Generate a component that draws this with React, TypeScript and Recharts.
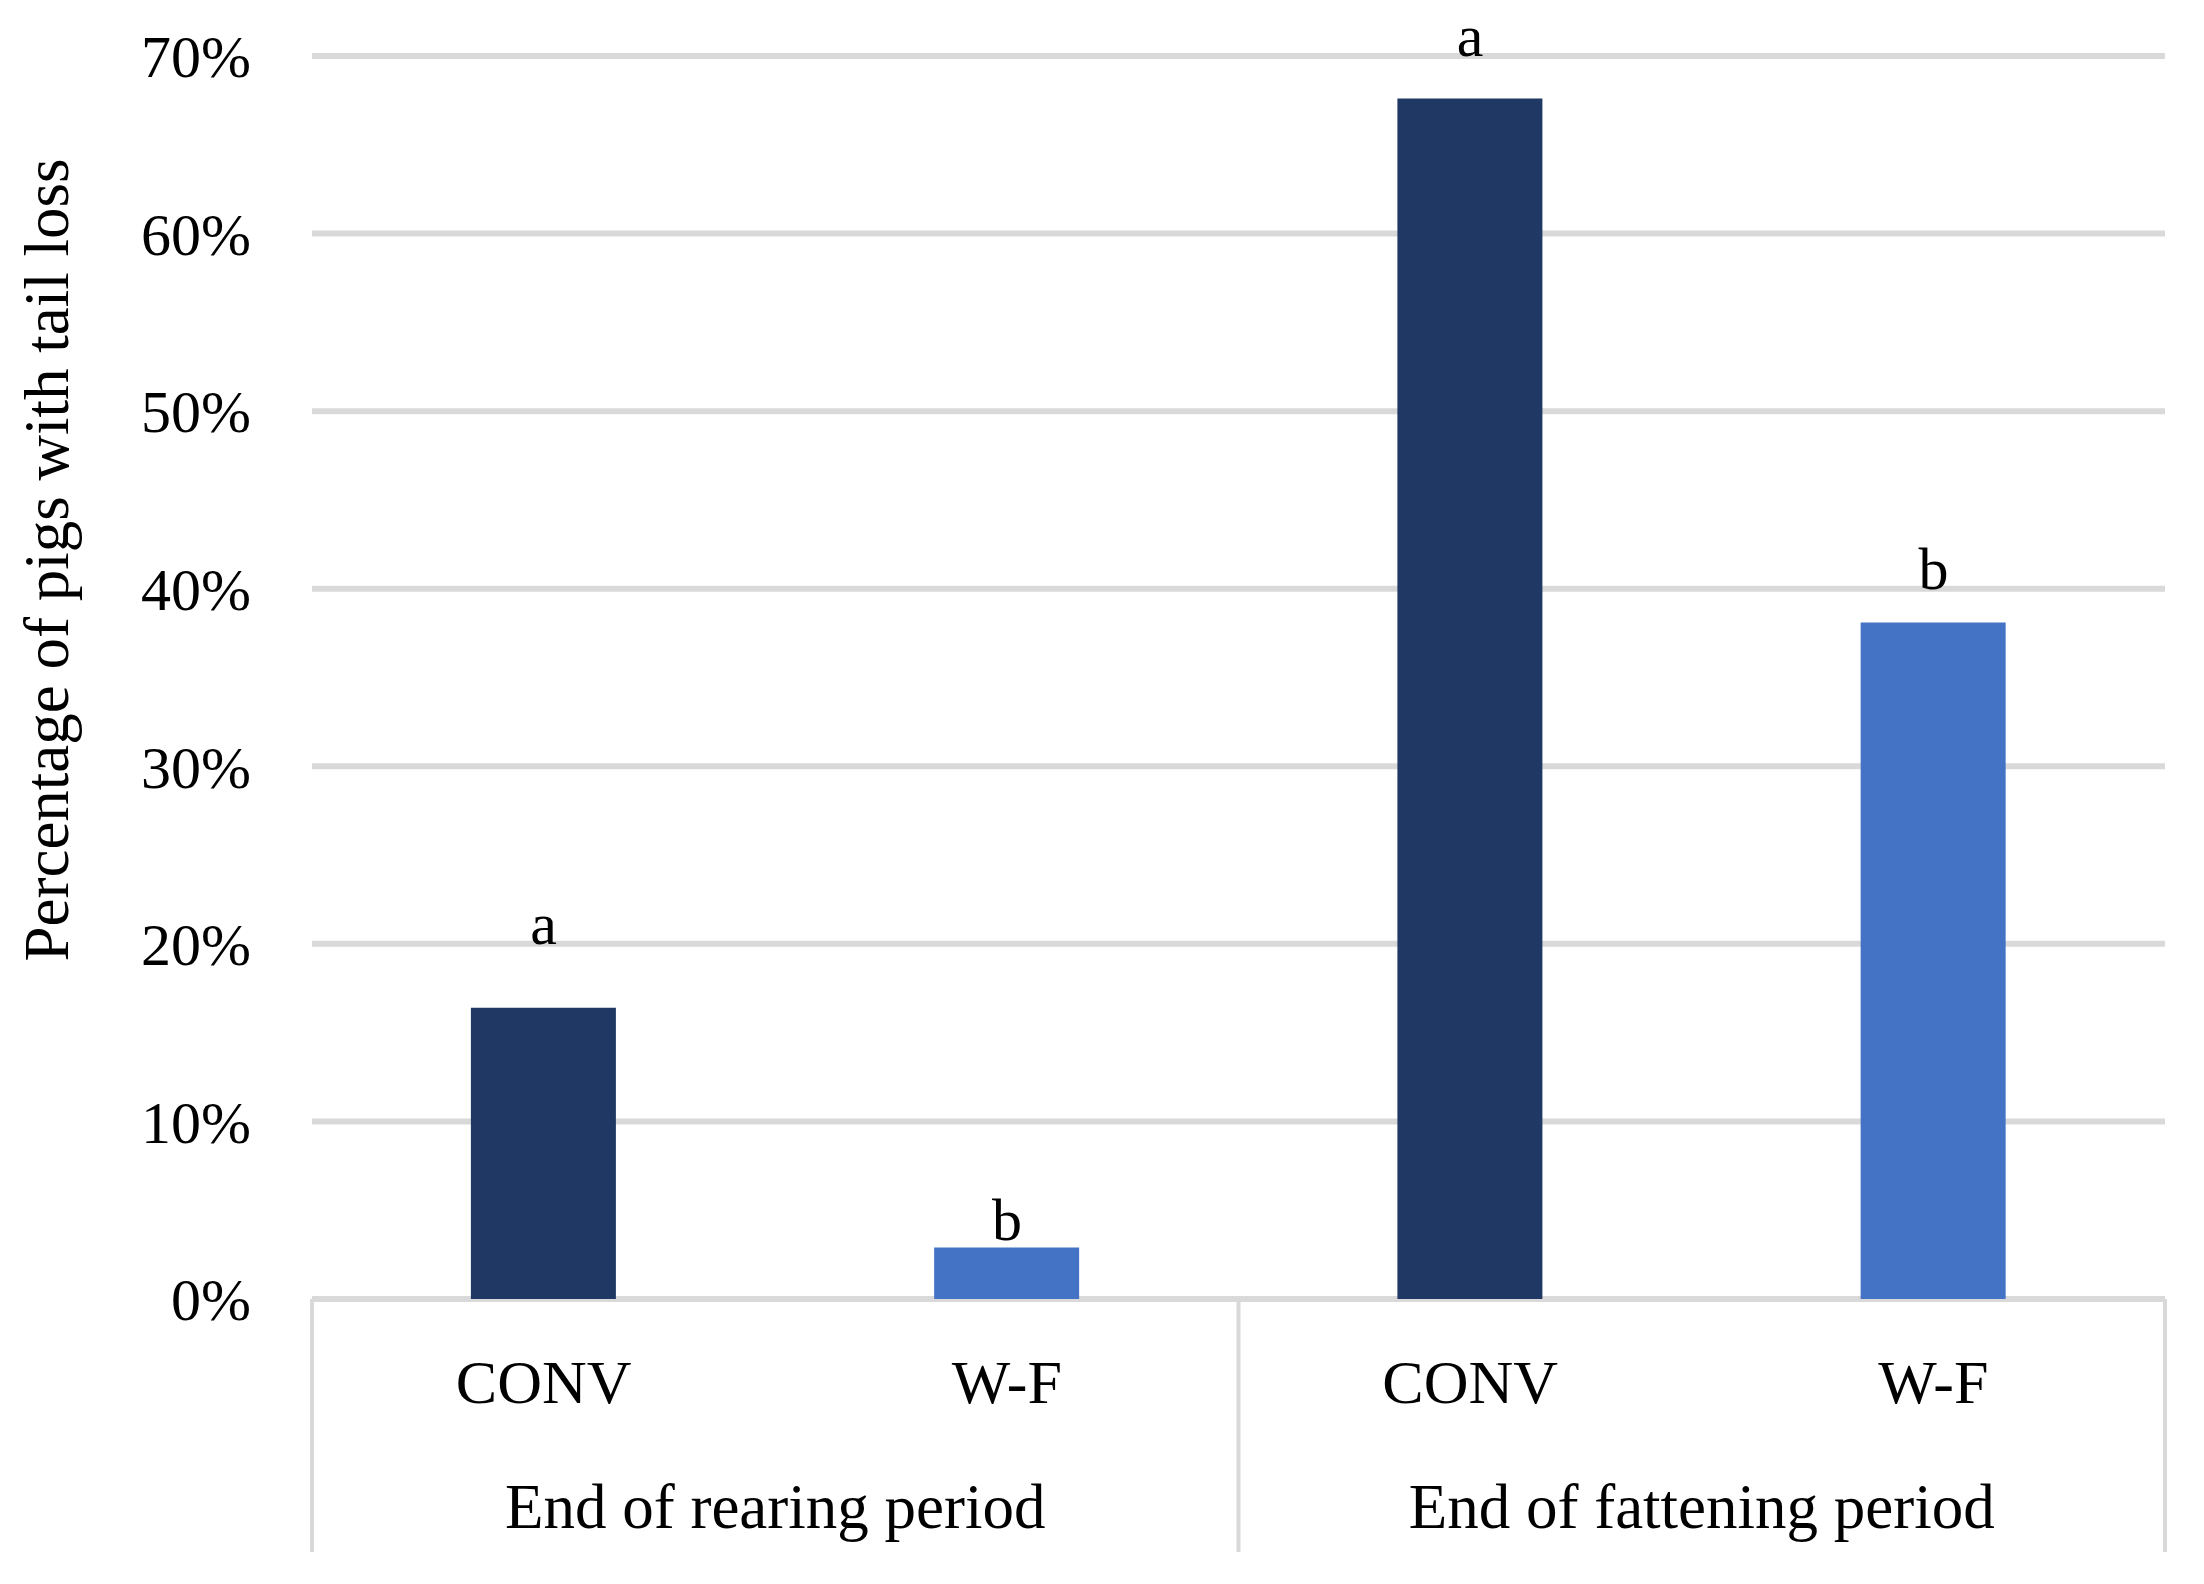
import React from 'react';
import { ComposedChart, Bar, Line, Cell, XAxis, YAxis, CartesianGrid } from 'recharts';

const categories = ['CONV', 'W-F', 'CONV', 'W-F'];
const periods = ['End of rearing period', 'End of fattening period'];
const tailLoss = [16.4, 2.9, 67.6, 38.1];
const letters = ['a', 'b', 'a', 'b'];
const letterLevels = [20, 3.3, 70, 40];
const barColors = ['#203864', '#4472C4', '#203864', '#4472C4'];
const yTicks = [0, 10, 20, 30, 40, 50, 60, 70];

const FONT = '"Liberation Serif", "Times New Roman", serif';
const GRID = '#d9d9d9';

const data = categories.map((c, i) => ({
  id: String(i),
  name: c,
  period: periods[Math.floor(i / 2)],
  value: tailLoss[i],
  letter: letters[i],
  letterLevel: letterLevels[i],
}));

const CategoryTick = (props: any) => {
  const { x, y, payload, index, width, visibleTicksCount } = props;
  const i = payload?.index ?? index;
  const half = width && visibleTicksCount ? width / visibleTicksCount / 2 : payload.offset;
  return (
    <g>
      <text x={x} y={y + 104} textAnchor="middle" fill="#000" fontSize={62} fontFamily={FONT}>
        {categories[i]}
      </text>
      {i % 2 === 0 && (
        <>
          <line x1={x - half} x2={x - half} y1={y} y2={y + 253} stroke={GRID} strokeWidth={4} />
          <text x={x + half} y={y + 229} textAnchor="middle" fill="#000" fontSize={63} fontFamily={FONT}>
            {periods[i / 2]}
          </text>
        </>
      )}
      {i === categories.length - 1 && (
        <line x1={x + half} x2={x + half} y1={y} y2={y + 253} stroke={GRID} strokeWidth={4} />
      )}
    </g>
  );
};

const LetterDot = (props: any) => {
  const { cx, cy, index } = props;
  return (
    <text key={`letter-${index}`} x={cx} y={cy} textAnchor="middle" fill="#000" fontSize={60} fontFamily={FONT}>
      {letters[index]}
    </text>
  );
};

const AxisTitle = () => (
  <text
    transform="translate(68, 560) rotate(-90)"
    textAnchor="middle"
    fill="#000"
    fontSize={63}
    fontFamily={FONT}
  >
    Percentage of pigs with tail loss
  </text>
);

export default function App() {
  return (
    <div style={{ position: 'absolute', left: 0, top: 0, width: 2204, height: 1584, background: '#fff' }}>
      <ComposedChart
        width={2204}
        height={1584}
        data={data}
        margin={{ top: 56, right: 39, bottom: 32, left: 0 }}
        barCategoryGap="34.3%"
      >
        <CartesianGrid vertical={false} stroke={GRID} strokeWidth={6} />
        <XAxis
          dataKey="id"
          axisLine={false}
          tickLine={false}
          tickSize={0}
          tickMargin={0}
          height={253}
          interval={0}
          tick={<CategoryTick />}
        />
        <YAxis
          type="number"
          domain={[0, 70]}
          ticks={yTicks}
          interval={0}
          width={312}
          axisLine={false}
          tickLine={false}
          tickSize={0}
          tickMargin={61}
          tickFormatter={(v: number) => `${v}%`}
          tick={{ fill: '#000', fontSize: 60, fontFamily: FONT }}
          label={{ content: () => <AxisTitle /> }}
        />
        <Bar dataKey="value" isAnimationActive={false}>
          {data.map((d, i) => (
            <Cell key={d.id} fill={barColors[i]} />
          ))}
        </Bar>
        <Line
          dataKey="letterLevel"
          stroke="none"
          isAnimationActive={false}
          dot={LetterDot}
          activeDot={false}
        />
      </ComposedChart>
    </div>
  );
}
